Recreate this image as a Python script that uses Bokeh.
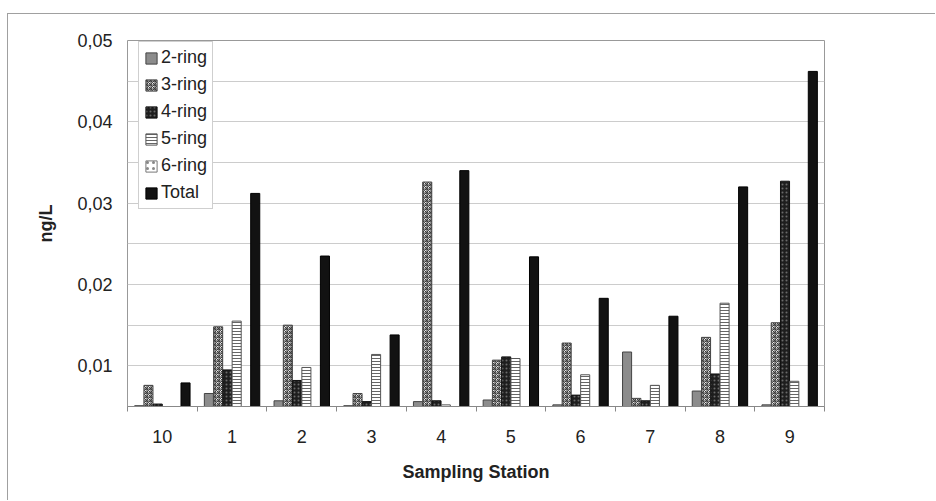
import numpy as np
from bokeh.plotting import figure
from bokeh.layouts import column, row
from bokeh.models import (Range1d, FixedTicker, CustomJSTickFormatter, Legend,
                          LegendItem, ColumnDataSource, Spacer)
from bokeh.embed import file_html
from bokeh.resources import INLINE

stations = ["10", "1", "2", "3", "4", "5", "6", "7", "8", "9"]
series_names = ["2-ring", "3-ring", "4-ring", "5-ring", "6-ring", "Total"]
ring2 = [0.0051, 0.0066, 0.0057, 0.0051, 0.0056, 0.0058, 0.0052, 0.0117, 0.0069, 0.0052]
ring3 = [0.0076, 0.0148, 0.0150, 0.0066, 0.0326, 0.0107, 0.0128, 0.0060, 0.0135, 0.0153]
ring4 = [0.0053, 0.0095, 0.0082, 0.0056, 0.0057, 0.0111, 0.0064, 0.0057, 0.0090, 0.0327]
ring5 = [0.0045, 0.0155, 0.0098, 0.0114, 0.0052, 0.0109, 0.0089, 0.0076, 0.0177, 0.0081]
ring6 = [0.0040, 0.0042, 0.0038, 0.0041, 0.0039, 0.0043, 0.0040, 0.0041, 0.0038, 0.0040]
total = [0.0079, 0.0312, 0.0235, 0.0138, 0.0340, 0.0234, 0.0183, 0.0161, 0.0320, 0.0462]
y_tick_values = [0.01, 0.02, 0.03, 0.04, 0.05]
grid_values = [0.005, 0.01, 0.015, 0.02, 0.025, 0.03, 0.035, 0.04, 0.045, 0.05]

series = [ring2, ring3, ring4, ring5, ring6, total]
styles = [
    dict(fill_color="#8c8c8c", line_color="#444444"),
    dict(fill_color="#e6e6e6", line_color="#444444", hatch_pattern="criss_cross",
         hatch_color="#3a3a3a", hatch_scale=4, hatch_weight=1),
    dict(fill_color="#1e1e1e", line_color="#111111", hatch_pattern="dot",
         hatch_color="#6a6a6a", hatch_scale=4, hatch_weight=1),
    dict(fill_color="#ffffff", line_color="#555555", hatch_pattern="horizontal_line",
         hatch_color="#666666", hatch_scale=3, hatch_weight=1),
    dict(fill_color="#ffffff", line_color="#777777", hatch_pattern="dot",
         hatch_color="#888888", hatch_scale=6, hatch_weight=1),
    dict(fill_color="#121212", line_color="#000000"),
]

FONT = "Liberation Sans"
FS = "18px"
TXT = "#222222"

n = len(stations)
centers = np.arange(n) + 0.5
boundaries = list(range(n + 1))
step = 0.133
bar_w = 0.13

p = figure(width=928, height=487, output_backend="svg", toolbar_location=None,
           x_range=Range1d(0, n), y_range=Range1d(0.005, 0.05),
           min_border_left=119, min_border_right=112, min_border_top=26,
           min_border_bottom=95)
p.styles = {"border-top": "1px solid #a0a0a0", "border-left": "1px solid #a0a0a0"}
p.outline_line_color = "#999999"
p.background_fill_color = "white"
p.border_fill_color = "white"

items = []
for k, (vals, name, st) in enumerate(zip(series, series_names, styles)):
    src = ColumnDataSource(dict(x=centers + (k - 2.5) * step, top=vals))
    r = p.vbar(x="x", top="top", bottom=0, width=bar_w, source=src, line_width=1, **st)
    items.append(LegendItem(label=name, renderers=[r]))

legend = Legend(items=items, location=(11, 197), margin=0, padding=5, spacing=6,
                glyph_width=14, glyph_height=14, label_height=21,
                label_text_font=FONT, label_text_font_size=FS,
                label_text_color=TXT, label_standoff=3,
                border_line_color="#a0a0a0", background_fill_alpha=1)
p.add_layout(legend, "center")

p.xgrid.visible = False
p.ygrid.ticker = FixedTicker(ticks=grid_values)
p.ygrid.grid_line_color = "#cccccc"

xa = p.xaxis[0]
xa.ticker = FixedTicker(ticks=list(centers), minor_ticks=boundaries)
xa.formatter = CustomJSTickFormatter(args=dict(labels=stations),
                                     code="return labels[Math.floor(tick)];")
xa.major_tick_line_color = None
xa.major_tick_out = 0
xa.minor_tick_in = 0
xa.minor_tick_out = 5
xa.minor_tick_line_color = "#888888"
xa.axis_line_color = "#888888"
xa.major_label_standoff = 18
xa.major_label_text_font = FONT
xa.major_label_text_font_size = FS
xa.major_label_text_color = TXT
xa.axis_label = "Sampling Station"
xa.axis_label_text_font = FONT
xa.axis_label_text_font_size = FS
xa.axis_label_text_font_style = "bold"
xa.axis_label_text_color = TXT
xa.axis_label_standoff = 16

ya = p.yaxis[0]
ya.ticker = FixedTicker(ticks=y_tick_values)
ya.formatter = CustomJSTickFormatter(code="return tick.toFixed(2).replace('.', ',');")
ya.major_tick_line_color = None
ya.minor_tick_line_color = None
ya.major_tick_out = 0
ya.major_tick_in = 0
ya.axis_line_color = None
ya.major_label_standoff = 15
ya.major_label_text_font = FONT
ya.major_label_text_font_size = FS
ya.major_label_text_color = TXT
ya.axis_label = "ng/L"
ya.axis_label_text_font = FONT
ya.axis_label_text_font_size = FS
ya.axis_label_text_font_style = "bold"
ya.axis_label_text_color = TXT
ya.axis_label_standoff = 18

layout = column(Spacer(height=13, width=935), row(Spacer(width=7, height=487), p))
open("out.html", "w").write(file_html(layout, INLINE))
